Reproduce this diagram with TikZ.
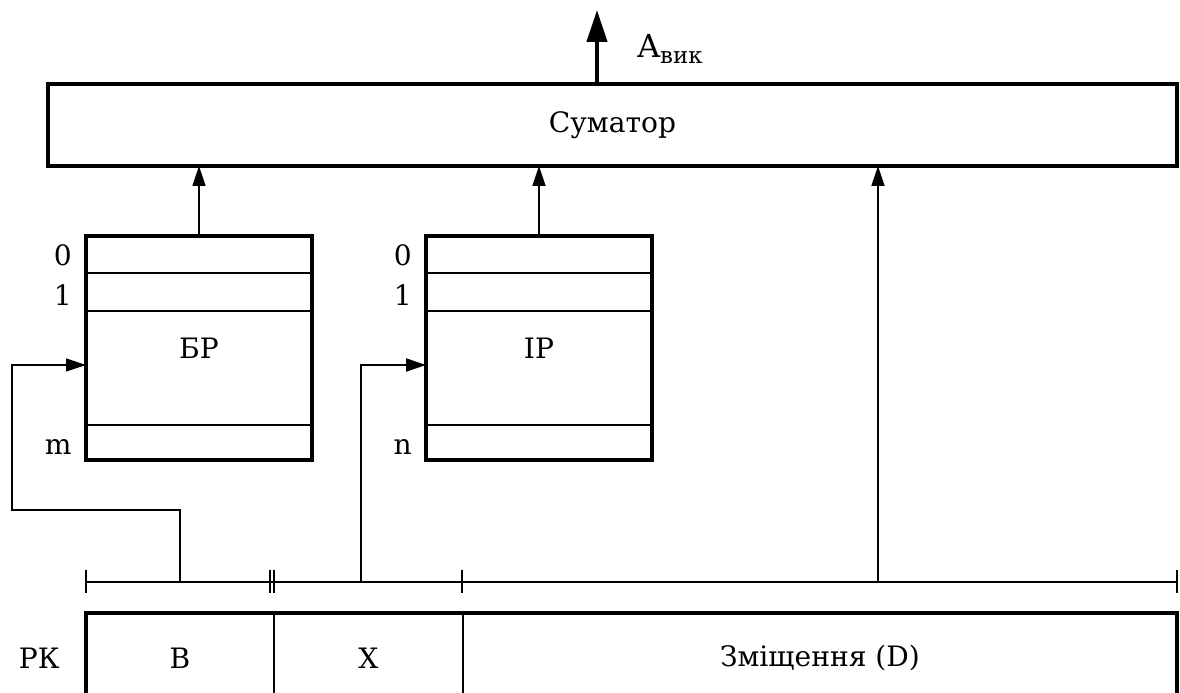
\documentclass[tikz,border=0pt]{standalone}
\usepackage{fontspec}
\setmainfont{DejaVu Serif}
\usetikzlibrary{
    positioning,
    arrows.meta
}
\tikzset{block/.style={
    draw,
    line width=2.2pt,
    outer sep=0pt,
    inner sep=0pt
}}
\tikzset{register/.style={block, minimum width=4.52cm, minimum height=4.48cm}}
\tikzset{field/.style={draw, line width=0.7pt, outer sep=0pt, minimum height=1.8cm}}
\tikzset{index/.style={inner sep=0pt, anchor=east}}
\tikzset{rowline/.style={line width=1.2pt}}
\tikzset{ruler/.style={line width=0.7pt}}
\tikzset{arrow/.style={line width=1pt, -{Triangle[length=4mm, width=2.6mm]}}}
\tikzset{outarrow/.style={line width=2.4pt, -{Triangle[length=6.4mm, width=4mm]}}}

\begin{document}
\begin{tikzpicture}[
            font=\fontsize{16}{20}\selectfont,
    ]
        \useasboundingbox (0,0) rectangle (23.6,13.86);
        \clip (0,0) rectangle (23.6,13.86);

        \node[block, minimum width=22.58cm, minimum height=1.64cm]
            (sum) at (12.25,11.36)
            {Суматор};

        \node[register]
            (br) at (3.98,6.90)
            {БР};

        \node[register, right=2.28cm of br]
            (ir)
            {ІР};

        % rows 0, 1 and the last one
        \foreach \r in {br, ir} {
            \draw[rowline] ([yshift=-7.4mm]\r.north west) -- ([yshift=-7.4mm]\r.north east);
            \draw[rowline] ([yshift=-15mm]\r.north west) -- ([yshift=-15mm]\r.north east);
            \draw[rowline] ([yshift=7mm]\r.south west) -- ([yshift=7mm]\r.south east);
        }

        \node[index] (br-0) at ([xshift=-2.8mm, yshift=-3.8mm]br.north west) {0};
        \node[index] (br-1) at ([xshift=-2.8mm, yshift=-11.8mm]br.north west) {1};
        \node[index] (br-m) at ([xshift=-2.8mm, yshift=2.6mm]br.south west) {m};
        \node[index] (ir-0) at ([xshift=-2.8mm, yshift=-3.8mm]ir.north west) {0};
        \node[index] (ir-1) at ([xshift=-2.8mm, yshift=-11.8mm]ir.north west) {1};
        \node[index] (ir-n) at ([xshift=-2.8mm, yshift=2.6mm]ir.south west) {n};

        % command register fields
        \node[field, minimum width=3.76cm]
            (fb) at (3.60,0.70)
            {В};

        \node[field, minimum width=3.78cm, right=0cm of fb]
            (fx)
            {Х};

        \node[field, minimum width=14.28cm, right=0cm of fx]
            (fd)
            {Зміщення (D)};

        \draw[line width=2.2pt] (fb.south west) -- (fb.north west) -- (fd.north east) -- (fd.south east);

        \node[inner sep=0pt, left=5.2mm of fb]
            (rk)
            {РК};

        \coordinate (bfeed) at (3.60,2.22);
        \coordinate (xfeed) at (7.22,2.22);
        \coordinate (dfeed) at (17.56,2.22);
        \coordinate (brin) at ([yshift=-3.4mm]br.west);
        \coordinate (irin) at ([yshift=-3.4mm]ir.west);
        \coordinate (out) at (11.94,13.66);

        \draw[ruler] (1.72,2.22) -- (23.54,2.22);
        \foreach \x in {1.72, 5.40, 5.48, 9.24, 23.54}
            \draw[ruler] (\x,2.00) -- (\x,2.46);

        \draw[arrow] (br.north) -- (br.north |- sum.south);
        \draw[arrow] (ir.north) -- (ir.north |- sum.south);
        \draw[arrow] (dfeed) -- (dfeed |- sum.south);

        \draw[arrow, line width=0.7pt] (bfeed) -- ++(0,1.44) -| ([xshift=-14.8mm]brin) -- (brin);
        \draw[arrow, line width=1.2pt] (xfeed) |- (irin);

        \draw[outarrow] (out |- sum.north) -- (out);

        \node[inner sep=0pt, anchor=base west]
            (aout) at (12.74,12.70)
            {{\fontsize{18}{22}\selectfont A}\raisebox{-3.4pt}{\fontsize{13}{16}\selectfont вик}};

    \end{tikzpicture}
\end{document}
